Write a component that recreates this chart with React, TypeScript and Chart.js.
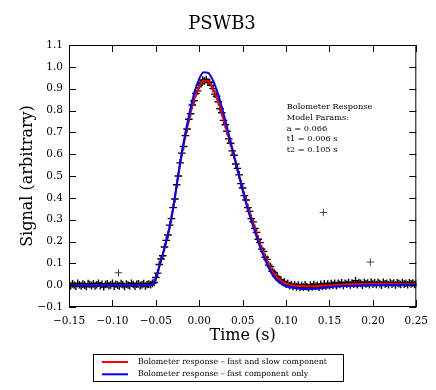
import React, { useEffect, useRef } from 'react';
import { Chart, registerables } from 'chart.js';

Chart.register(...registerables);

const FONT = "'DejaVu Serif', serif";

const TITLE = 'PSWB3';
const X_LABEL = 'Time (s)';
const Y_LABEL = 'Signal (arbitrary)';
const X_MIN = -0.15;
const X_MAX = 0.25;
const X_STEP = 0.05;
const Y_MIN = -0.1;
const Y_MAX = 1.1;
const Y_STEP = 0.1;

const NOTE_LINES = ['Bolometer Response', 'Model Params:', 'a = 0.066', 't1 = 0.006 s', 't2 = 0.105 s'];

const LEGEND_LABELS = [
  'Bolometer response \u2013 fast and slow component',
  'Bolometer response \u2013 fast component only',
];

// model curves (time in s)
const MODEL_T = [
  -0.15, -0.06, -0.055, -0.05, -0.045, -0.04, -0.035, -0.03, -0.025, -0.02,
  -0.015, -0.01, -0.005, 0.0, 0.005, 0.01, 0.015, 0.02, 0.025, 0.03,
  0.035, 0.04, 0.045, 0.05, 0.055, 0.06, 0.065, 0.07, 0.075, 0.08,
  0.085, 0.09, 0.095, 0.1, 0.11, 0.12, 0.13, 0.14, 0.15, 0.17,
  0.2, 0.25,
];
const RED_Y = [
  0.0, 0.0, 0.002, 0.03, 0.1, 0.17, 0.25, 0.35, 0.48, 0.6,
  0.7, 0.79, 0.86, 0.91, 0.937, 0.935, 0.905, 0.86, 0.8, 0.73,
  0.66, 0.59, 0.515, 0.44, 0.37, 0.31, 0.25, 0.19, 0.14, 0.095,
  0.06, 0.035, 0.018, 0.007, -0.003, -0.005, -0.005, -0.003, 0.0, 0.004,
  0.007, 0.007,
];
const BLUE_Y = [
  0.0, 0.0, 0.002, 0.03, 0.1, 0.17, 0.25, 0.355, 0.485, 0.61,
  0.715, 0.81, 0.89, 0.945, 0.975, 0.973, 0.945, 0.895, 0.83, 0.755,
  0.675, 0.595, 0.515, 0.435, 0.36, 0.295, 0.235, 0.175, 0.125, 0.08,
  0.045, 0.02, 0.005, -0.005, -0.013, -0.017, -0.017, -0.014, -0.009, -0.004,
  0.0, 0.002,
];

// measured samples
const SCATTER_T = [
  -0.150, -0.148, -0.146, -0.144, -0.142, -0.140, -0.138, -0.136, -0.134, -0.132,
  -0.130, -0.128, -0.126, -0.124, -0.122, -0.120, -0.118, -0.116, -0.114, -0.112,
  -0.110, -0.108, -0.106, -0.104, -0.102, -0.100, -0.098, -0.096, -0.094, -0.092,
  -0.090, -0.088, -0.086, -0.084, -0.082, -0.080, -0.078, -0.076, -0.074, -0.072,
  -0.070, -0.068, -0.066, -0.064, -0.062, -0.060, -0.058, -0.056,
  -0.054, -0.052, -0.050, -0.048, -0.046, -0.044, -0.042, -0.040, -0.038, -0.036,
  -0.034, -0.032, -0.030, -0.028, -0.026, -0.024, -0.022, -0.020, -0.018, -0.016,
  -0.014, -0.012, -0.010, -0.008, -0.006, -0.004, -0.002, 0.000, 0.002, 0.004,
  0.006, 0.008, 0.010, 0.012, 0.014, 0.016, 0.018, 0.020, 0.022, 0.024,
  0.026, 0.028, 0.030, 0.032, 0.034, 0.036, 0.038, 0.040, 0.042, 0.044,
  0.046, 0.048, 0.050, 0.052, 0.054, 0.056, 0.058, 0.060, 0.062, 0.064,
  0.066, 0.068, 0.070, 0.072, 0.074, 0.076, 0.078, 0.080, 0.082, 0.084,
  0.086, 0.088, 0.090, 0.092, 0.094, 0.096, 0.098, 0.100, 0.102, 0.104,
  0.106, 0.108, 0.110, 0.112, 0.114, 0.116, 0.118, 0.120, 0.122, 0.124,
  0.126, 0.128, 0.130, 0.132, 0.134, 0.136, 0.138, 0.140, 0.142, 0.144,
  0.146, 0.148, 0.150, 0.152, 0.154, 0.156, 0.158, 0.160, 0.162, 0.164,
  0.166, 0.168, 0.170, 0.172, 0.174, 0.176, 0.178, 0.180, 0.182, 0.184,
  0.186, 0.188, 0.190, 0.192, 0.194, 0.196, 0.198, 0.200, 0.202, 0.204,
  0.206, 0.208, 0.210, 0.212, 0.214, 0.216, 0.218, 0.220, 0.222, 0.224,
  0.226, 0.228, 0.230, 0.232, 0.234, 0.236, 0.238, 0.240, 0.242, 0.244,
  0.246, 0.248, 0.250,
];
const SCATTER_Y = [
  0.004, -0.003, 0.006, 0.001, -0.005, 0.008, 0.002, -0.004, 0.005, 0.0,
  -0.006, 0.007, 0.003, -0.002, 0.006, -0.004, 0.002, 0.009, -0.003, 0.004,
  -0.007, 0.003, 0.006, -0.002, 0.001, 0.008, -0.005, 0.004, 0.0, -0.004,
  0.007, 0.002, -0.006, 0.005, 0.001, -0.003, 0.009, 0.003, -0.005, 0.004,
  0.006, -0.002, 0.002, 0.007, -0.004, 0.003, 0.005, 0.002,
  0.008, 0.012, 0.035, 0.055, 0.095, 0.12, 0.135, 0.175, 0.205, 0.23,
  0.275, 0.305, 0.355, 0.395, 0.46, 0.5, 0.56, 0.605, 0.635, 0.685,
  0.715, 0.76, 0.785, 0.825, 0.845, 0.878, 0.89, 0.915, 0.922, 0.94,
  0.935, 0.942, 0.93, 0.928, 0.915, 0.9, 0.875, 0.865, 0.84, 0.808,
  0.79, 0.755, 0.735, 0.705, 0.67, 0.65, 0.615, 0.595, 0.555, 0.535,
  0.505, 0.465, 0.445, 0.41, 0.39, 0.355, 0.338, 0.305, 0.29, 0.26,
  0.242, 0.21, 0.195, 0.165, 0.155, 0.128, 0.118, 0.092, 0.085, 0.064,
  0.058, 0.042, 0.038, 0.025, 0.024, 0.012, 0.014, 0.004, 0.008, -0.003,
  0.003, -0.006, 0.001, -0.008, 0.0, -0.01, -0.002, -0.009, 0.002, -0.007,
  -0.012, 0.0, -0.008, 0.003, -0.006, -0.001, -0.009, 0.004, -0.005, 0.006,
  -0.004, 0.005, -0.003, 0.007, 0.0, 0.009, -0.002, 0.008, 0.003, 0.011,
  -0.001, 0.009, 0.004, 0.012, 0.001, 0.01, 0.005, 0.02, 0.002, 0.012,
  0.008, 0.0, 0.013, 0.006, 0.01, 0.002, 0.014, 0.005, 0.011, 0.003,
  0.012, 0.007, 0.0, 0.013, 0.006, 0.009, 0.002, 0.012, 0.005, 0.01,
  0.001, 0.011, 0.007, 0.003, 0.012, 0.005, 0.009, 0.002, 0.011, 0.006,
  0.01, 0.003, 0.008,
];
const OUTLIER_T = [-0.093, 0.143, 0.197];
const OUTLIER_Y = [0.057, 0.333, 0.106];

const pairs = (xs: number[], ys: number[]) => xs.map((x, i) => ({ x, y: ys[i] }));
const fmt = (v: number, d: number) => {
  const s = Math.abs(v).toFixed(d);
  return (v < -1e-9 ? '\u2212' : '') + s;
};

const TICK_LEN = 7;

const decorPlugin = {
  id: 'decor',
  afterDatasetsDraw(chart: any) {
    const { ctx, chartArea: a, scales } = chart;
    const xs = scales.x;
    const ys = scales.y;
    ctx.save();
    ctx.strokeStyle = '#000';
    ctx.lineWidth = 1;
    ctx.beginPath();
    xs.ticks.forEach((t: any) => {
      const px = Math.round(xs.getPixelForValue(t.value)) + 0.5;
      ctx.moveTo(px, a.bottom);
      ctx.lineTo(px, a.bottom - TICK_LEN);
      ctx.moveTo(px, a.top);
      ctx.lineTo(px, a.top + TICK_LEN);
    });
    ys.ticks.forEach((t: any) => {
      const py = Math.round(ys.getPixelForValue(t.value)) + 0.5;
      ctx.moveTo(a.left, py);
      ctx.lineTo(a.left + TICK_LEN, py);
      ctx.moveTo(a.right, py);
      ctx.lineTo(a.right - TICK_LEN, py);
    });
    ctx.stroke();
    ctx.strokeRect(a.left + 0.5, a.top + 0.5, a.right - a.left - 1, a.bottom - a.top - 1);

    // annotation
    ctx.fillStyle = '#000';
    ctx.font = `8.2px ${FONT}`;
    ctx.textAlign = 'left';
    ctx.textBaseline = 'middle';
    const nx = a.left + 0.627 * (a.right - a.left);
    const ny = a.top + 0.236 * (a.bottom - a.top);
    NOTE_LINES.forEach((l, i) => ctx.fillText(l, nx, ny + i * 10.8));

    // titles
    ctx.textAlign = 'center';
    ctx.font = `18px ${FONT}`;
    ctx.fillText(TITLE, 222, 24);
    ctx.font = `16px ${FONT}`;
    ctx.fillText(X_LABEL, (a.left + a.right) / 2, 336);
    ctx.save();
    ctx.translate(28, (a.top + a.bottom) / 2);
    ctx.rotate(-Math.PI / 2);
    ctx.fillText(Y_LABEL, 0, 0);
    ctx.restore();

    // legend
    const bx = 93, by = 354, bw = 250, bh = 27;
    ctx.strokeStyle = '#000';
    ctx.strokeRect(bx + 0.5, by + 0.5, bw, bh);
    ctx.font = `7.9px ${FONT}`;
    ctx.textAlign = 'left';
    const legendSets = chart.data.datasets.filter((d: any) => d.legendIndex !== undefined)
      .sort((p: any, q: any) => p.legendIndex - q.legendIndex);
    legendSets.forEach((d: any, i: number) => {
      const yy = by + 8 + i * 12.3;
      ctx.strokeStyle = d.borderColor;
      ctx.lineWidth = 2;
      ctx.beginPath();
      ctx.moveTo(102, yy);
      ctx.lineTo(128, yy);
      ctx.stroke();
      ctx.fillStyle = '#000';
      ctx.fillText(d.label, 138, yy);
    });
    ctx.restore();
  },
};

export default function App() {
  const ref = useRef<HTMLCanvasElement | null>(null);
  useEffect(() => {
    if (!ref.current) return;
    const markerColor = '#000';
    const chart = new Chart(ref.current, {
      type: 'line',
      data: {
        datasets: [
          {
            label: LEGEND_LABELS[1],
            legendIndex: 1,
            data: pairs(MODEL_T, BLUE_Y),
            borderColor: 'rgb(0,0,255)',
            borderWidth: 2,
            pointRadius: 0,
            cubicInterpolationMode: 'monotone',
            order: 1,
          } as any,
          {
            label: LEGEND_LABELS[0],
            legendIndex: 0,
            data: pairs(MODEL_T, RED_Y),
            borderColor: 'rgb(255,0,0)',
            borderWidth: 2,
            pointRadius: 0,
            cubicInterpolationMode: 'monotone',
            order: 2,
          } as any,
          {
            label: 'data',
            data: pairs(SCATTER_T, SCATTER_Y),
            showLine: false,
            pointStyle: 'cross',
            pointRadius: 3.8,
            pointBorderWidth: 1.4,
            pointBorderColor: markerColor,
            borderColor: markerColor,
            order: 3,
          } as any,
          {
            label: 'outliers',
            data: pairs(OUTLIER_T, OUTLIER_Y),
            showLine: false,
            pointStyle: 'cross',
            pointRadius: 3.8,
            pointBorderWidth: 1,
            pointBorderColor: 'rgba(0,0,0,0.7)',
            borderColor: 'rgba(0,0,0,0.7)',
            order: 3,
          } as any,
        ],
      },
      options: {
        responsive: false,
        animation: false,
        devicePixelRatio: 1,
        layout: { padding: { top: 45, right: 18, bottom: 0, left: 0 } },
        plugins: { legend: { display: false }, tooltip: { enabled: false }, title: { display: false } },
        scales: {
          x: {
            type: 'linear',
            min: X_MIN,
            max: X_MAX,
            grid: { display: false, drawTicks: false },
            border: { display: false },
            ticks: {
              stepSize: X_STEP,
              autoSkip: false,
              maxRotation: 0,
              padding: 8,
              color: '#000',
              font: { family: FONT, size: 10.5 },
              callback: (v: any) => fmt(Number(v), 2),
            },
            afterFit: (s: any) => { s.height = 83; },
          },
          y: {
            type: 'linear',
            min: Y_MIN,
            max: Y_MAX,
            grid: { display: false, drawTicks: false },
            border: { display: false },
            ticks: {
              stepSize: Y_STEP,
              autoSkip: false,
              padding: 6,
              color: '#000',
              font: { family: FONT, size: 10.5 },
              callback: (v: any) => fmt(Number(v), 1),
            },
            afterFit: (s: any) => { s.width = 69; },
          },
        },
      } as any,
      plugins: [decorPlugin],
    });
    return () => chart.destroy();
  }, []);
  return (
    <div style={{ position: 'absolute', left: 0, top: 0, width: 436, height: 390, background: '#fff' }}>
      <canvas ref={ref} width={436} height={390} style={{ width: 436, height: 390, display: 'block' }} />
    </div>
  );
}
